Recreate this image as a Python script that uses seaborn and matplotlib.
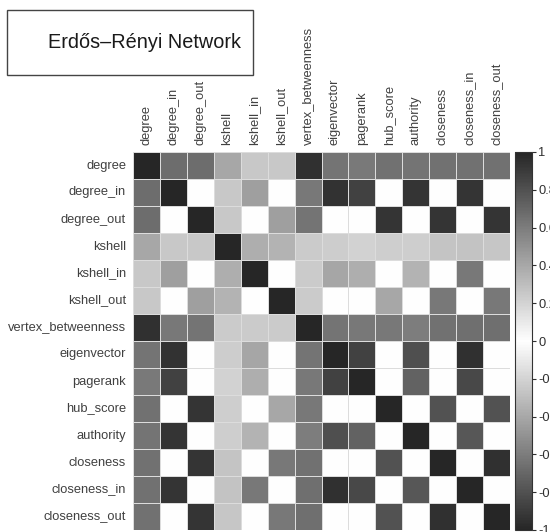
import numpy as np
import pandas as pd
import matplotlib
matplotlib.use("Agg")
import matplotlib.pyplot as plt
from matplotlib.colors import LinearSegmentedColormap
from matplotlib.patches import Rectangle
import seaborn as sns

# Centrality measures compared in the correlation matrix
measures = ["degree", "degree_in", "degree_out", "kshell", "kshell_in",
            "kshell_out", "vertex_betweenness", "eigenvector", "pagerank",
            "hub_score", "authority", "closeness", "closeness_in",
            "closeness_out"]

# Pairwise correlation coefficients, one list per row
degree =             [1.00, 0.67, 0.67, 0.40, 0.25, 0.25, 0.95, 0.64, 0.61, 0.65, 0.64, 0.65, 0.65, 0.65]
degree_in =          [0.67, 1.00, 0.00, 0.25, 0.44, 0.00, 0.62, 0.94, 0.87, 0.00, 0.93, 0.00, 0.93, 0.00]
degree_out =         [0.67, 0.00, 1.00, 0.25, 0.00, 0.44, 0.64, 0.00, 0.00, 0.93, 0.00, 0.93, 0.00, 0.93]
kshell =             [0.40, 0.25, 0.25, 1.00, 0.37, 0.35, 0.24, 0.23, 0.21, 0.22, 0.22, 0.27, 0.28, 0.26]
kshell_in =          [0.25, 0.44, 0.00, 0.37, 1.00, 0.00, 0.24, 0.41, 0.37, 0.00, 0.35, 0.00, 0.62, 0.00]
kshell_out =         [0.25, 0.00, 0.44, 0.35, 0.00, 1.00, 0.24, 0.00, 0.00, 0.40, 0.00, 0.62, 0.00, 0.62]
vertex_betweenness = [0.95, 0.62, 0.64, 0.24, 0.24, 0.24, 1.00, 0.64, 0.62, 0.62, 0.60, 0.65, 0.66, 0.66]
eigenvector =        [0.64, 0.94, 0.00, 0.23, 0.41, 0.00, 0.64, 1.00, 0.87, 0.00, 0.81, 0.00, 0.95, 0.00]
pagerank =           [0.61, 0.87, 0.00, 0.21, 0.37, 0.00, 0.62, 0.87, 1.00, 0.00, 0.72, 0.00, 0.84, 0.00]
hub_score =          [0.65, 0.00, 0.93, 0.22, 0.00, 0.40, 0.62, 0.00, 0.00, 1.00, 0.00, 0.79, 0.00, 0.79]
authority =          [0.64, 0.93, 0.00, 0.22, 0.35, 0.00, 0.60, 0.81, 0.72, 0.00, 1.00, 0.00, 0.77, 0.00]
closeness =          [0.65, 0.00, 0.93, 0.27, 0.00, 0.62, 0.65, 0.00, 0.00, 0.79, 0.00, 1.00, 0.00, 0.95]
closeness_in =       [0.65, 0.93, 0.00, 0.28, 0.62, 0.00, 0.66, 0.95, 0.84, 0.00, 0.77, 0.00, 1.00, 0.00]
closeness_out =      [0.65, 0.00, 0.93, 0.26, 0.00, 0.62, 0.66, 0.00, 0.00, 0.79, 0.00, 0.95, 0.00, 1.00]

rows = [degree, degree_in, degree_out, kshell, kshell_in, kshell_out,
        vertex_betweenness, eigenvector, pagerank, hub_score, authority,
        closeness, closeness_in, closeness_out]

cbar_ticks = [-1, -0.8, -0.6, -0.4, -0.2, 0, 0.2, 0.4, 0.6, 0.8, 1]
cbar_labels = ["-1", "-0.8", "-0.6", "-0.4", "-0.2", "0",
               "0.2", "0.4", "0.6", "0.8", "1"]
title = "Erdős–Rényi Network"

corr = pd.DataFrame(rows, index=measures, columns=measures)

sns.set_theme(style="white")
plt.rcParams["font.family"] = ["Liberation Sans", "DejaVu Sans"]
plt.rcParams["axes.unicode_minus"] = False

# Symmetric grey scale: strong correlations of either sign are dark
cmap = LinearSegmentedColormap.from_list("abs_grey", ["#262626", "#ffffff", "#262626"])

W, H = 550, 532
fig = plt.figure(figsize=(W / 100, H / 100), dpi=100)
ax = fig.add_axes([133 / W, 1 - 530 / H, 377 / W, 378 / H])
cax = fig.add_axes([515 / W, 1 - 530 / H, 17 / W, 378 / H])

sns.heatmap(corr, ax=ax, cbar_ax=cax, cmap=cmap, vmin=-1, vmax=1,
            linewidths=0.4, linecolor="#dcdcdc",
            cbar_kws={"ticks": cbar_ticks})

ax.xaxis.tick_top()
ax.set_xticklabels(measures, rotation=90, fontsize=9.3, color="#404040")
ax.set_yticklabels(measures, rotation=0, fontsize=9.3, color="#404040")
ax.tick_params(axis="both", length=0, pad=5)
ax.set_xlabel("")
ax.set_ylabel("")

cax.set_yticklabels(cbar_labels)
cax.tick_params(labelsize=9.3, labelcolor="#303030", length=3, width=0.8,
                color="#303030", right=True, pad=1.5)
cbar = ax.collections[0].colorbar
cbar.outline.set_visible(True)
cbar.outline.set_edgecolor("#333333")
cbar.outline.set_linewidth(0.8)

# Boxed title in the upper-left corner
fig.patches.append(Rectangle((7 / W, 1 - 75 / H), 246 / W, 65 / H,
                             transform=fig.transFigure, fill=False,
                             edgecolor="#444444", linewidth=1.0))
fig.text(241 / W, 1 - 43 / H, title, ha="right", va="center",
         fontsize=14.3, color="#1a1a1a")

fig.savefig("out.png", dpi=100)
